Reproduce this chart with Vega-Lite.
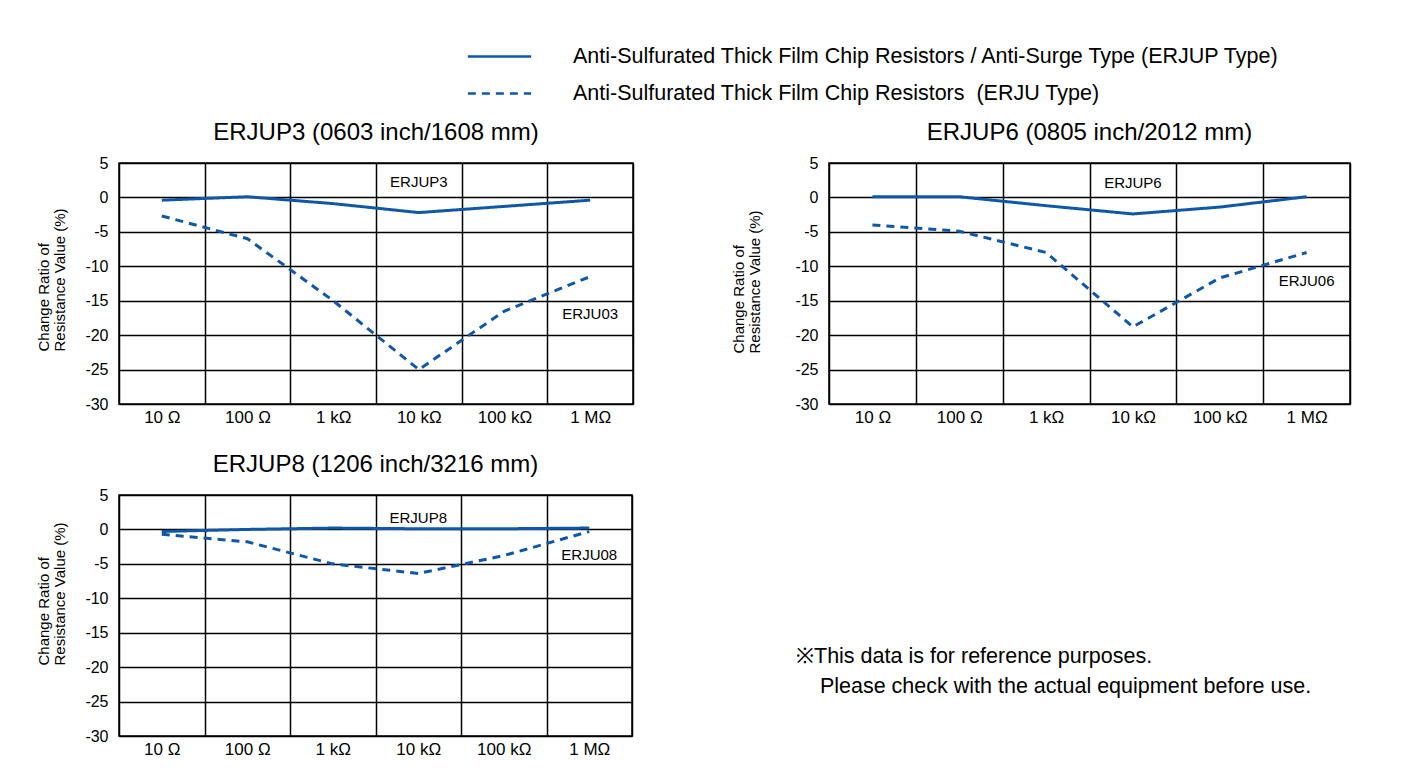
{
  "$schema": "https://vega.github.io/schema/vega-lite/v6.json",
  "background": "white",
  "padding": {"left": 35, "top": 39, "right": 5, "bottom": 5},
  "config": {
    "font": "Liberation Sans",
    "view": {"stroke": "black", "strokeWidth": 1.5},
    "axis": {
      "labelFont": "Liberation Sans", "labelColor": "black",
      "titleFont": "Liberation Sans", "titleColor": "black", "titleFontWeight": "normal",
      "grid": true, "gridColor": "black", "gridWidth": 1.5, "gridOpacity": 1,
      "domain": false, "ticks": false, "labelOverlap": false
    },
    "title": {"font": "Liberation Sans", "fontSize": 24, "fontWeight": "normal", "color": "black", "offset": 10},
    "legend": {"labelFont": "Liberation Sans", "labelColor": "black"}
  },
  "datasets": {
    "series": [
      {"panel": "3", "type": "Anti-Sulfurated Thick Film Chip Resistors / Anti-Surge Type (ERJUP Type)", "r": "10 Ω", "v": -0.4},
      {"panel": "3", "type": "Anti-Sulfurated Thick Film Chip Resistors / Anti-Surge Type (ERJUP Type)", "r": "100 Ω", "v": 0.1},
      {"panel": "3", "type": "Anti-Sulfurated Thick Film Chip Resistors / Anti-Surge Type (ERJUP Type)", "r": "1 kΩ", "v": -0.9},
      {"panel": "3", "type": "Anti-Sulfurated Thick Film Chip Resistors / Anti-Surge Type (ERJUP Type)", "r": "10 kΩ", "v": -2.2},
      {"panel": "3", "type": "Anti-Sulfurated Thick Film Chip Resistors / Anti-Surge Type (ERJUP Type)", "r": "100 kΩ", "v": -1.3},
      {"panel": "3", "type": "Anti-Sulfurated Thick Film Chip Resistors / Anti-Surge Type (ERJUP Type)", "r": "1 MΩ", "v": -0.4},
      {"panel": "3", "type": "Anti-Sulfurated Thick Film Chip Resistors \u00a0(ERJU Type)", "r": "10 Ω", "v": -2.7},
      {"panel": "3", "type": "Anti-Sulfurated Thick Film Chip Resistors \u00a0(ERJU Type)", "r": "100 Ω", "v": -6.0},
      {"panel": "3", "type": "Anti-Sulfurated Thick Film Chip Resistors \u00a0(ERJU Type)", "r": "1 kΩ", "v": -15.0},
      {"panel": "3", "type": "Anti-Sulfurated Thick Film Chip Resistors \u00a0(ERJU Type)", "r": "10 kΩ", "v": -25.0},
      {"panel": "3", "type": "Anti-Sulfurated Thick Film Chip Resistors \u00a0(ERJU Type)", "r": "100 kΩ", "v": -16.5},
      {"panel": "3", "type": "Anti-Sulfurated Thick Film Chip Resistors \u00a0(ERJU Type)", "r": "1 MΩ", "v": -11.5},
      {"panel": "6", "type": "Anti-Sulfurated Thick Film Chip Resistors / Anti-Surge Type (ERJUP Type)", "r": "10 Ω", "v": 0.1},
      {"panel": "6", "type": "Anti-Sulfurated Thick Film Chip Resistors / Anti-Surge Type (ERJUP Type)", "r": "100 Ω", "v": 0.1},
      {"panel": "6", "type": "Anti-Sulfurated Thick Film Chip Resistors / Anti-Surge Type (ERJUP Type)", "r": "1 kΩ", "v": -1.2},
      {"panel": "6", "type": "Anti-Sulfurated Thick Film Chip Resistors / Anti-Surge Type (ERJUP Type)", "r": "10 kΩ", "v": -2.4},
      {"panel": "6", "type": "Anti-Sulfurated Thick Film Chip Resistors / Anti-Surge Type (ERJUP Type)", "r": "100 kΩ", "v": -1.4},
      {"panel": "6", "type": "Anti-Sulfurated Thick Film Chip Resistors / Anti-Surge Type (ERJUP Type)", "r": "1 MΩ", "v": 0.1},
      {"panel": "6", "type": "Anti-Sulfurated Thick Film Chip Resistors \u00a0(ERJU Type)", "r": "10 Ω", "v": -4.0},
      {"panel": "6", "type": "Anti-Sulfurated Thick Film Chip Resistors \u00a0(ERJU Type)", "r": "100 Ω", "v": -4.9},
      {"panel": "6", "type": "Anti-Sulfurated Thick Film Chip Resistors \u00a0(ERJU Type)", "r": "1 kΩ", "v": -8.0},
      {"panel": "6", "type": "Anti-Sulfurated Thick Film Chip Resistors \u00a0(ERJU Type)", "r": "10 kΩ", "v": -18.8},
      {"panel": "6", "type": "Anti-Sulfurated Thick Film Chip Resistors \u00a0(ERJU Type)", "r": "100 kΩ", "v": -11.7},
      {"panel": "6", "type": "Anti-Sulfurated Thick Film Chip Resistors \u00a0(ERJU Type)", "r": "1 MΩ", "v": -8.0},
      {"panel": "8", "type": "Anti-Sulfurated Thick Film Chip Resistors / Anti-Surge Type (ERJUP Type)", "r": "10 Ω", "v": -0.3},
      {"panel": "8", "type": "Anti-Sulfurated Thick Film Chip Resistors / Anti-Surge Type (ERJUP Type)", "r": "100 Ω", "v": 0.0},
      {"panel": "8", "type": "Anti-Sulfurated Thick Film Chip Resistors / Anti-Surge Type (ERJUP Type)", "r": "1 kΩ", "v": 0.2},
      {"panel": "8", "type": "Anti-Sulfurated Thick Film Chip Resistors / Anti-Surge Type (ERJUP Type)", "r": "10 kΩ", "v": 0.1},
      {"panel": "8", "type": "Anti-Sulfurated Thick Film Chip Resistors / Anti-Surge Type (ERJUP Type)", "r": "100 kΩ", "v": 0.1},
      {"panel": "8", "type": "Anti-Sulfurated Thick Film Chip Resistors / Anti-Surge Type (ERJUP Type)", "r": "1 MΩ", "v": 0.2},
      {"panel": "8", "type": "Anti-Sulfurated Thick Film Chip Resistors \u00a0(ERJU Type)", "r": "10 Ω", "v": -0.7},
      {"panel": "8", "type": "Anti-Sulfurated Thick Film Chip Resistors \u00a0(ERJU Type)", "r": "100 Ω", "v": -1.8},
      {"panel": "8", "type": "Anti-Sulfurated Thick Film Chip Resistors \u00a0(ERJU Type)", "r": "1 kΩ", "v": -5.0},
      {"panel": "8", "type": "Anti-Sulfurated Thick Film Chip Resistors \u00a0(ERJU Type)", "r": "10 kΩ", "v": -6.4},
      {"panel": "8", "type": "Anti-Sulfurated Thick Film Chip Resistors \u00a0(ERJU Type)", "r": "100 kΩ", "v": -3.8},
      {"panel": "8", "type": "Anti-Sulfurated Thick Film Chip Resistors \u00a0(ERJU Type)", "r": "1 MΩ", "v": -0.3}
    ],
    "labels": [
      {"panel": "3", "r": "10 kΩ", "v": 2.3, "label": "ERJUP3"},
      {"panel": "3", "r": "1 MΩ", "v": -16.9, "label": "ERJU03"},
      {"panel": "6", "r": "10 kΩ", "v": 2.1, "label": "ERJUP6"},
      {"panel": "6", "r": "1 MΩ", "v": -12.1, "label": "ERJU06"},
      {"panel": "8", "r": "10 kΩ", "v": 1.6, "label": "ERJUP8"},
      {"panel": "8", "r": "1 MΩ", "v": -3.7, "label": "ERJU08"}
    ],
    "note": [
      {"line": 1, "col": 0, "text": "※This data is for reference purposes."},
      {"line": 2, "col": 0, "text": "\u2060\u00a0\u00a0\u00a0\u00a0Please check with the actual equipment before use."}
    ]
  },
  "resolve": {"scale": {"strokeDash": "shared"}, "legend": {"strokeDash": "shared"}},
  "spacing": 26,
  "vconcat": [
    {
      "spacing": 96,
      "resolve": {"scale": {"strokeDash": "shared"}, "legend": {"strokeDash": "shared"}},
      "hconcat": [
        {
          "width": 514, "height": 241,
          "title": "ERJUP3 (0603 inch/1608 mm)",
          "encoding": {
            "x": {"field": "r", "type": "nominal", "scale": {"type": "band", "domain": ["10 Ω", "100 Ω", "1 kΩ", "10 kΩ", "100 kΩ", "1 MΩ"], "paddingInner": 0, "paddingOuter": 0}, "axis": {"title": null, "labelAngle": 0, "tickBand": "extent", "grid": true, "labelPadding": 5, "labelFontSize": 17}},
            "y": {"field": "v", "type": "quantitative", "scale": {"domain": [-30, 5], "nice": false, "zero": false}, "axis": {"values": [5, 0, -5, -10, -15, -20, -25, -30], "labelExpr": "'' + datum.value", "labelFontSize": 16, "labelPadding": 11, "title": ["Change Ratio of", "Resistance Value (%)"], "titleFontSize": 15, "titleLineHeight": 16, "titleAlign": "left", "titleX": -68, "titleY": 188}}
          },
          "layer": [
            {
              "data": {"name": "series"},
              "transform": [{"filter": "datum.panel == '3'"}],
              "mark": {"type": "line", "strokeWidth": 3, "color": "#0f58a8"},
              "encoding": {
                "strokeDash": {"field": "type", "type": "nominal", "scale": {"domain": ["Anti-Sulfurated Thick Film Chip Resistors / Anti-Surge Type (ERJUP Type)", "Anti-Sulfurated Thick Film Chip Resistors \u00a0(ERJU Type)"], "range": [[1, 0], [8, 6]]}, "legend": {"title": null, "orient": "none", "legendX": 363, "legendY": -124, "labelFontSize": 21.5, "labelLimit": 2000, "labelOffset": 56, "symbolType": "M-2,0L2,0", "symbolSize": 1000, "symbolStrokeWidth": 2.5, "rowPadding": 9, "padding": 0}}
              }
            },
            {
              "data": {"name": "labels"},
              "transform": [{"filter": "datum.panel == '3'"}],
              "mark": {"type": "text", "fontSize": 15, "color": "black", "baseline": "middle"},
              "encoding": {"text": {"field": "label"}}
            }
          ]
        },
        {
          "width": 521, "height": 241,
          "title": "ERJUP6 (0805 inch/2012 mm)",
          "encoding": {
            "x": {"field": "r", "type": "nominal", "scale": {"type": "band", "domain": ["10 Ω", "100 Ω", "1 kΩ", "10 kΩ", "100 kΩ", "1 MΩ"], "paddingInner": 0, "paddingOuter": 0}, "axis": {"title": null, "labelAngle": 0, "tickBand": "extent", "grid": true, "labelPadding": 5, "labelFontSize": 17}},
            "y": {"field": "v", "type": "quantitative", "scale": {"domain": [-30, 5], "nice": false, "zero": false}, "axis": {"values": [5, 0, -5, -10, -15, -20, -25, -30], "labelExpr": "'' + datum.value", "labelFontSize": 16, "labelPadding": 11, "title": ["Change Ratio of", "Resistance Value (%)"], "titleFontSize": 15, "titleLineHeight": 16, "titleAlign": "left", "titleX": -83, "titleY": 190}}
          },
          "layer": [
            {
              "data": {"name": "series"},
              "transform": [{"filter": "datum.panel == '6'"}],
              "mark": {"type": "line", "strokeWidth": 3, "color": "#0f58a8"},
              "encoding": {
                "strokeDash": {"field": "type", "type": "nominal", "scale": {"domain": ["Anti-Sulfurated Thick Film Chip Resistors / Anti-Surge Type (ERJUP Type)", "Anti-Sulfurated Thick Film Chip Resistors \u00a0(ERJU Type)"], "range": [[1, 0], [8, 6]]}, "legend": {"title": null, "orient": "none", "legendX": 363, "legendY": -124, "labelFontSize": 21.5, "labelLimit": 2000, "labelOffset": 56, "symbolType": "M-2,0L2,0", "symbolSize": 1000, "symbolStrokeWidth": 2.5, "rowPadding": 9, "padding": 0}}
              }
            },
            {
              "data": {"name": "labels"},
              "transform": [{"filter": "datum.panel == '6'"}],
              "mark": {"type": "text", "fontSize": 15, "color": "black", "baseline": "middle"},
              "encoding": {"text": {"field": "label"}}
            }
          ]
        }
      ]
    },
    {
      "spacing": 163,
      "resolve": {"scale": {"strokeDash": "shared"}, "legend": {"strokeDash": "shared"}},
      "hconcat": [
        {
          "width": 513, "height": 241,
          "title": "ERJUP8 (1206 inch/3216 mm)",
          "encoding": {
            "x": {"field": "r", "type": "nominal", "scale": {"type": "band", "domain": ["10 Ω", "100 Ω", "1 kΩ", "10 kΩ", "100 kΩ", "1 MΩ"], "paddingInner": 0, "paddingOuter": 0}, "axis": {"title": null, "labelAngle": 0, "tickBand": "extent", "grid": true, "labelPadding": 5, "labelFontSize": 17}},
            "y": {"field": "v", "type": "quantitative", "scale": {"domain": [-30, 5], "nice": false, "zero": false}, "axis": {"values": [5, 0, -5, -10, -15, -20, -25, -30], "labelExpr": "'' + datum.value", "labelFontSize": 16, "labelPadding": 11, "title": ["Change Ratio of", "Resistance Value (%)"], "titleFontSize": 15, "titleLineHeight": 16, "titleAlign": "left", "titleX": -68, "titleY": 170}}
          },
          "layer": [
            {
              "data": {"name": "series"},
              "transform": [{"filter": "datum.panel == '8'"}],
              "mark": {"type": "line", "strokeWidth": 3, "color": "#0f58a8"},
              "encoding": {
                "strokeDash": {"field": "type", "type": "nominal", "scale": {"domain": ["Anti-Sulfurated Thick Film Chip Resistors / Anti-Surge Type (ERJUP Type)", "Anti-Sulfurated Thick Film Chip Resistors \u00a0(ERJU Type)"], "range": [[1, 0], [8, 6]]}, "legend": {"title": null, "orient": "none", "legendX": 363, "legendY": -124, "labelFontSize": 21.5, "labelLimit": 2000, "labelOffset": 56, "symbolType": "M-2,0L2,0", "symbolSize": 1000, "symbolStrokeWidth": 2.5, "rowPadding": 9, "padding": 0}}
              }
            },
            {
              "data": {"name": "labels"},
              "transform": [{"filter": "datum.panel == '8'"}],
              "mark": {"type": "text", "fontSize": 15, "color": "black", "baseline": "middle"},
              "encoding": {"text": {"field": "label"}}
            }
          ]
        },
        {
          "width": 560, "height": 241,
          "view": {"stroke": null},
          "data": {"name": "note"},
          "mark": {"type": "text", "fontSize": 21.5, "color": "black", "align": "left", "baseline": "middle"},
          "encoding": {
            "x": {"field": "col", "type": "quantitative", "scale": {"domain": [0, 1]}, "axis": null},
            "y": {"field": "line", "type": "quantitative", "scale": {"domain": [-4.4, 3.63], "reverse": true, "nice": false, "zero": false}, "axis": null},
            "text": {"field": "text"}
          }
        }
      ]
    }
  ]
}
